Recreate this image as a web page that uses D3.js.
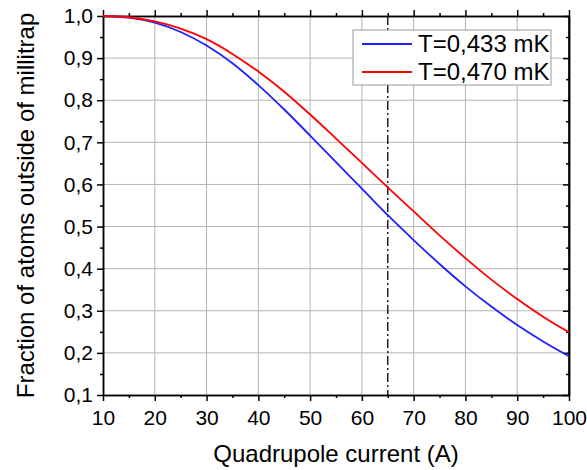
<!DOCTYPE html>
<html>
<head>
<meta charset="utf-8">
<script src="https://cdn.jsdelivr.net/npm/d3@7"></script>
<style>
  body { margin: 0; background: #fff; }
  text { font-family: "Liberation Sans", Arial, sans-serif; fill: #000; }
</style>
</head>
<body>
<div id="chart"></div>
<script>
// quadrupole current (A)
const currents = [10, 15, 20, 25, 30, 35, 40, 45, 50, 55, 60, 65, 70, 75, 80, 85, 90, 95, 100];
// fraction of atoms outside the millitrap
const fracLow = [1.000, 0.996, 0.984, 0.962, 0.930, 0.888, 0.836, 0.778, 0.716, 0.653, 0.590, 0.527, 0.468, 0.411, 0.358, 0.310, 0.266, 0.227, 0.192];
const fracHigh = [1.000, 0.997, 0.987, 0.970, 0.945, 0.910, 0.868, 0.820, 0.766, 0.709, 0.651, 0.593, 0.536, 0.479, 0.425, 0.374, 0.328, 0.286, 0.249];
const seriesNames = ["T=0,433 mK", "T=0,470 mK"];
const seriesColors = ["#2020ff", "#ff0000"];
const markerCurrent = 65;
const xTicks = [10, 20, 30, 40, 50, 60, 70, 80, 90, 100];
const yTicks = [0.1, 0.2, 0.3, 0.4, 0.5, 0.6, 0.7, 0.8, 0.9, 1.0];

const W = 587, H = 470;
const margin = { top: 16, right: 18, bottom: 75, left: 103 };
const iw = W - margin.left - margin.right;
const ih = H - margin.top - margin.bottom;

const svg = d3.select("#chart").append("svg")
  .attr("width", W).attr("height", H);

const g = svg.append("g").attr("transform", `translate(${margin.left},${margin.top})`);

const x = d3.scaleLinear().domain([10, 100]).range([0, iw]);
const y = d3.scaleLinear().domain([0.1, 1.0]).range([ih, 0]);

const fmt = v => d3.format(".1f")(v).replace(".", ",");

/* grid */
g.append("g").selectAll("line").data(xTicks.slice(1, -1)).join("line")
  .attr("x1", d => x(d)).attr("x2", d => x(d))
  .attr("y1", 0).attr("y2", ih)
  .attr("stroke", "#b4b4b4").attr("stroke-width", 1);
g.append("g").selectAll("line").data(yTicks.slice(1, -1)).join("line")
  .attr("y1", d => y(d)).attr("y2", d => y(d))
  .attr("x1", 0).attr("x2", iw)
  .attr("stroke", "#b4b4b4").attr("stroke-width", 1);

/* minor tick values */
const xMinor = d3.range(15, 100, 10);
const yMinor = d3.range(0.15, 1.0, 0.1);

/* axes */
const axisStyle = sel => {
  sel.selectAll(".domain").attr("stroke", "#000").attr("stroke-width", 1.5);
  sel.selectAll(".tick line").attr("stroke", "#000").attr("stroke-width", 1.5);
  sel.selectAll("text").style("font-size", "21px");
};

g.append("g").attr("transform", `translate(0,${ih})`)
  .call(d3.axisBottom(x).tickValues(xTicks).tickSize(6).tickPadding(9).tickSizeOuter(0))
  .call(axisStyle);
g.append("g").attr("transform", `translate(0,${ih})`)
  .call(d3.axisBottom(x).tickValues(xMinor).tickSize(3).tickFormat("").tickSizeOuter(0))
  .call(axisStyle);

g.append("g")
  .call(d3.axisLeft(y).tickValues(yTicks).tickFormat(fmt).tickSize(6).tickPadding(4).tickSizeOuter(0))
  .call(axisStyle);
g.append("g")
  .call(d3.axisLeft(y).tickValues(yMinor).tickSize(3).tickFormat("").tickSizeOuter(0))
  .call(axisStyle);

g.append("g")
  .call(d3.axisTop(x).tickValues(xTicks).tickSize(6).tickFormat("").tickSizeOuter(0))
  .call(axisStyle);
g.append("g")
  .call(d3.axisTop(x).tickValues(xMinor).tickSize(3).tickFormat("").tickSizeOuter(0))
  .call(axisStyle);

g.append("g").attr("transform", `translate(${iw},0)`)
  .call(d3.axisLeft(y).tickValues(yTicks).tickSize(6).tickFormat("").tickSizeOuter(0))
  .call(axisStyle);
g.append("g").attr("transform", `translate(${iw},0)`)
  .call(d3.axisLeft(y).tickValues(yMinor).tickSize(3).tickFormat("").tickSizeOuter(0))
  .call(axisStyle);
// right axis line itself
g.append("line").attr("x1", iw).attr("x2", iw).attr("y1", 0).attr("y2", ih)
  .attr("stroke", "#000").attr("stroke-width", 1.5);

/* vertical dash-dot marker */
g.append("line")
  .attr("x1", x(markerCurrent)).attr("x2", x(markerCurrent))
  .attr("y1", 0).attr("y2", ih)
  .attr("stroke", "#000").attr("stroke-width", 1.3)
  .attr("stroke-dasharray", "9,3,2,3");

/* curves */
const line = d3.line()
  .x((d, i) => x(currents[i]))
  .y(d => y(d))
  .curve(d3.curveMonotoneX);

[fracLow, fracHigh].forEach((vals, k) => {
  g.append("path")
    .datum(vals)
    .attr("d", line)
    .attr("fill", "none")
    .attr("stroke", seriesColors[k])
    .attr("stroke-width", 1.8);
});

/* legend */
const leg = svg.append("g").attr("transform", "translate(353,30)");
leg.append("rect").attr("width", 198).attr("height", 55)
  .attr("fill", "#fff").attr("stroke", "#999").attr("stroke-width", 1);
seriesNames.forEach((name, k) => {
  const yy = 14 + k * 28;
  leg.append("line").attr("x1", 9).attr("x2", 59).attr("y1", yy).attr("y2", yy)
    .attr("stroke", seriesColors[k]).attr("stroke-width", 1.8);
  leg.append("text").attr("x", 65).attr("y", yy + 8)
    .style("font-size", "24px").text(name);
});

/* axis titles */
svg.append("text")
  .attr("x", margin.left + iw / 2).attr("y", 462)
  .attr("text-anchor", "middle")
  .style("font-size", "24px")
  .text("Quadrupole current (A)");

svg.append("text")
  .attr("transform", `translate(34,${margin.top + ih / 2}) rotate(-90)`)
  .attr("text-anchor", "middle")
  .style("font-size", "24px")
  .text("Fraction of atoms outside of millitrap");
</script>
</body>
</html>
